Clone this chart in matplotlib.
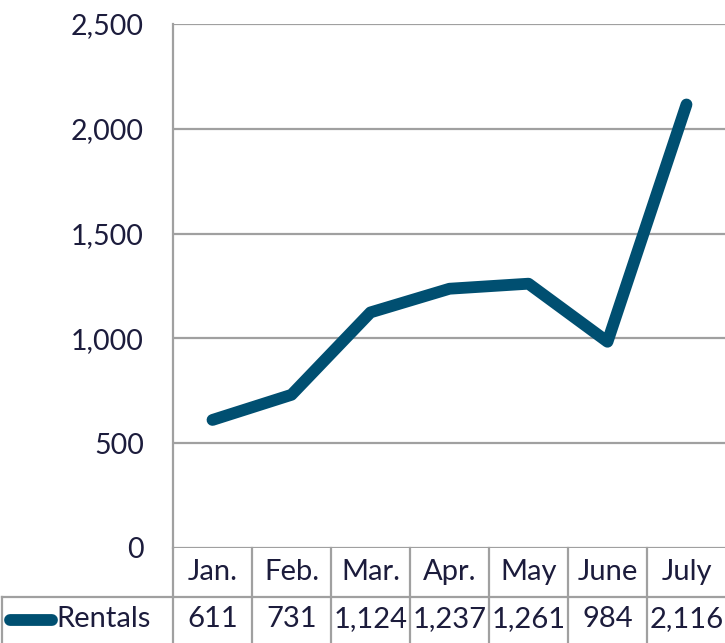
import matplotlib.pyplot as plt
from matplotlib.lines import Line2D

months = ['Jan.', 'Feb.', 'Mar.', 'Apr.', 'May', 'June', 'July']
rentals = [611, 731, 1124, 1237, 1261, 984, 2116]
yticks = [0, 500, 1000, 1500, 2000, 2500]
series_name = 'Rentals'

line_color = '#004f71'
grid_color = '#a0a0a0'
text_color = '#1c1c3c'

plt.rcParams['font.family'] = ['Lato', 'DejaVu Sans']

W, H = 725, 643
fig = plt.figure(figsize=(W / 100, H / 100), dpi=100)

# plot area in pixel coords
left, right, top, bottom = 173, 726, 24, 548
ax = fig.add_axes([left / W, 1 - bottom / H, (right - left) / W, (bottom - top) / H])
x = list(range(len(months)))
ax.plot(x, rentals, color=line_color, lw=8.5, solid_capstyle='round',
        solid_joinstyle='round', zorder=3)
ax.set_xlim(-0.5, len(months) - 0.5)
ax.set_ylim(0, 2500)
ax.set_yticks(yticks)
ax.set_yticklabels([f'{v:,}' for v in yticks], fontsize=20.5, color=text_color)
ax.tick_params(axis='y', length=0, pad=21)
ax.set_xticks([])
for s in ['top', 'right', 'bottom']:
    ax.spines[s].set_visible(False)
ax.spines['left'].set_color(grid_color)
ax.spines['left'].set_linewidth(1.6)
ax.yaxis.grid(True, color=grid_color, lw=1.6)
ax.set_axisbelow(True)

# data table drawn in pixel coordinates on an overlay
ov = fig.add_axes([0, 0, 1, 1], facecolor='none')
ov.set_xlim(0, W)
ov.set_ylim(H, 0)
ov.axis('off')

col_w = (right - left) / len(months)
row1_bot = 597
lk = dict(color=grid_color, lw=1.6)
ov.add_line(Line2D([left, left], [bottom, H], **lk))
ov.add_line(Line2D([2, W], [row1_bot, row1_bot], **lk))
ov.add_line(Line2D([2, 2], [row1_bot, H], **lk))
for i in range(1, len(months)):
    xb = left + i * col_w
    ov.add_line(Line2D([xb, xb], [bottom, H], **lk))

for i, (m, v) in enumerate(zip(months, rentals)):
    xc = left + (i + 0.5) * col_w
    ov.text(xc, 572, m, ha='center', va='center', fontsize=21, color=text_color)
    ov.text(xc, 619, f'{v:,}', ha='center', va='center', fontsize=21, color=text_color)

ov.add_line(Line2D([10, 52], [620, 620], color=line_color, lw=8.5, solid_capstyle='round'))
ov.text(56, 619, series_name, ha='left', va='center', fontsize=21, color=text_color)

fig.savefig('out.png', dpi=100)
